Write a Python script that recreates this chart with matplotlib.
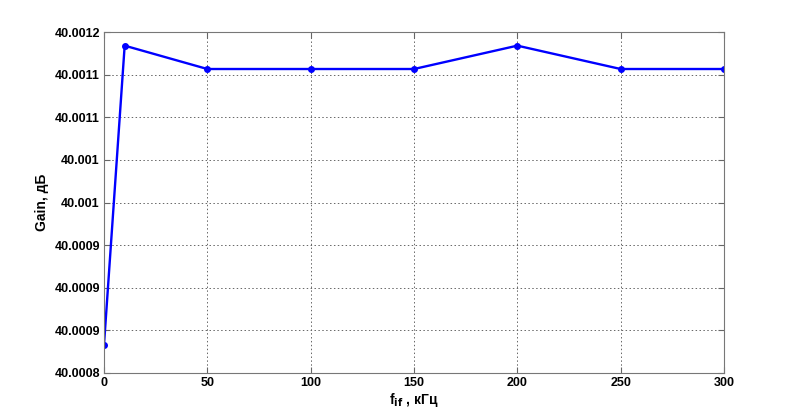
import matplotlib
matplotlib.use("Agg")
import matplotlib.pyplot as plt
from matplotlib.ticker import FixedLocator, FixedFormatter

plt.rcParams['font.family'] = ['Liberation Sans', 'DejaVu Sans']
plt.rcParams['font.weight'] = 'bold'

# данные
f_if = [0, 10, 50, 100, 150, 200, 250, 300]
gain = [40.000833, 40.001184, 40.0011566, 40.0011566, 40.0011566, 40.001184, 40.0011566, 40.0011566]

y_ticks = [40.0008, 40.00085, 40.0009, 40.00095, 40.001, 40.00105, 40.0011, 40.00115, 40.0012]
y_tick_labels = ["40.0008", "40.0009", "40.0009", "40.0009", "40.001",
                 "40.001", "40.0011", "40.0011", "40.0012"]
x_ticks = [0, 50, 100, 150, 200, 250, 300]

fig = plt.figure(figsize=(8, 4.19), dpi=100)
ax = fig.add_axes([0.13, 0.1098, 0.775, 0.8138])

ax.plot(f_if, gain, color='#0000ff', lw=1.7, marker='o', ms=4)

ax.set_xlim(0, 300)
ax.set_ylim(40.0008, 40.0012)
ax.set_xticks(x_ticks)
ax.yaxis.set_major_locator(FixedLocator(y_ticks))
ax.yaxis.set_major_formatter(FixedFormatter(y_tick_labels))

ax.grid(True, linestyle=(0, (1.5, 2.5)), color='#666666', lw=0.7)
ax.tick_params(direction='in', labelsize=9, color='#666666', length=4,
               top=True, right=True, pad=3)
for s in ax.spines.values():
    s.set_color('#777777')
for lab in ax.get_xticklabels() + ax.get_yticklabels():
    lab.set_fontweight('bold')

ax.set_xlabel(r'f$_{\mathbf{if}}$ , кГц', fontsize=10, fontweight='bold', labelpad=1)
ax.set_ylabel('Gain, дБ', fontsize=10, fontweight='bold', labelpad=4)

fig.savefig('out.png', dpi=100)
